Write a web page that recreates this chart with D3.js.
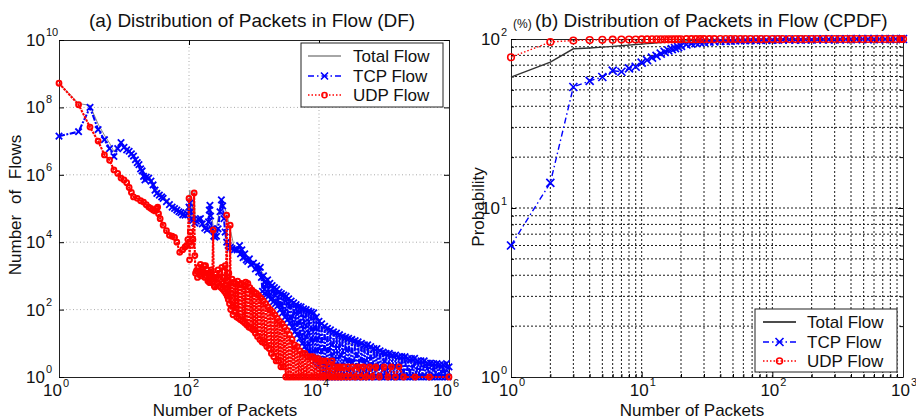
<!DOCTYPE html>
<html>
<head>
<meta charset="utf-8">
<script src="https://cdn.jsdelivr.net/npm/d3@7/dist/d3.min.js"></script>
<style>
  body { margin: 0; background: #fff; }
  text { font-family: "Liberation Sans", Arial, Helvetica, sans-serif; fill: #111; }
</style>
</head>
<body>
<svg id="chart" width="916" height="419"></svg>
<script>
// (a) DF: number of flows for each packet count [packets, flows]
const dfTotal = [[1,5.3e8],[2,1.3e8],[3,1.15e8],[4,3.2e7],[5,1.5e7],[6,8.7e6],[7,4.9e6],[8,7.1e6],[9,9.8e6],[10,7.2e6],
  [12,5.4e6],[14,3.8e6],[16,2.5e6],[18,1.7e6],[20,1.05e6],[24,9.1e5],[28,5.9e5],[32,3.8e5],[40,2.3e5],[50,1.5e5],
  [65,1e5],[80,7.1e4],[100,1.2e5],[103,3.5e5],[110,5.8e4],[120,3.2e5],[125,4e4],[150,5.2e4],[190,2.5e4],[210,1.3e5],
  [250,1.45e4],[315,1.82e5],[380,7.3e4],[500,6.6e3],[800,3e3],[1250,1.5e3],[2000,450],[3000,220],[5000,100],[8000,60],
  [12000,25],[20000,14],[40000,8],[80000,5],[150000,3.5],[300000,2.5],[600000,2],[1000000,1.5]];

const dfTcp = [[1,1.4e7],[2,1.9e7],[3,1.0e8],[4,2.2e7],[5,1.1e7],[6,6e6],[7,3.5e6],[8,6e6],[9,9e6],[10,6.5e6],
  [11,5.5e6],[12,5e6],[13,4.2e6],[14,3.6e6],[15,2.8e6],[16,2.3e6],[17,2.0e6],[18,1.5e6],[19,1.3e6],[20,9e5],
  [21,7e5],[22,8.5e5],[24,8e5],[26,6.5e5],[28,5e5],[30,3.5e5],[32,2.8e5],[35,2.5e5],[38,2.2e5],[40,2.0e5],
  [45,1.6e5],[50,1.3e5],[55,1.1e5],[60,1.0e5],[65,9e4],[70,8e4],[75,7.5e4],[80,6.5e4],[87,6.3e4],[95,7e4],
  [100,1.1e5],[103,1.45e5],[106,8e4],[110,5e4],[115,4.5e4],[123,3.7e4],[130,4.2e4],[140,4.8e4],[150,5e4],[160,3.5e4],
  [175,2.6e4],[190,2.3e4],[200,4e4],[205,9e4],[210,1.25e5],[215,6e4],[225,2.5e4],[240,1.5e4],[250,1.4e4],[265,1.5e4],
  [280,2.5e4],[300,8e4],[315,1.8e5],[330,1.2e5],[345,5e4],[360,2e4],[380,1e4],[400,8e3],[430,7e3],[460,6.5e3],
  [500,6e3],[550,5.9e3],[600,8e3],[620,4.5e3],[650,5.9e3],[680,3.5e3],[720,4.5e3],[760,3e3],[800,2.7e3],[850,3.2e3],
  [900,2.2e3],[980,2.4e3],[1050,1.6e3],[1100,2e3],[1180,1.3e3],[1250,1.8e3],
  [1300,900],[1350,350],[1400,1000],[1450,300],[1500,700],[1560,280],[1620,760],[1680,250],[1750,600],[1820,200],
  [1900,520],[1980,170],[2060,450],[2150,150],[2240,400],[2330,130],[2430,330],[2530,100],[2640,300],[2750,80],
  [2870,270],[3000,60],[3130,250],[3270,50],[3420,210],[3570,40],[3730,180],[3900,30],[4080,160],[4260,22],
  [4450,140],[4650,18],[4860,125],[5080,14],[5300,120],[5550,10],[5800,105],[6050,8],[6350,100],[6650,6],
  [6950,90],[7250,5],[7600,85],[7950,4],[8300,80],[8700,3],[9100,60],[9500,2],[10000,45],[10500,1],
  [11000,38],[11600,1],[12200,32],[12800,1],[13500,28],[14200,1],[15000,25],[15800,1],[16700,22],[17600,1],
  [18600,20],[19600,1],[20700,18],[21800,1],[23000,16],[24300,1],[25700,15],[27100,1],[28600,14],[30200,1],
  [32000,13],[34000,1],[36000,12],[38000,1],[40000,11],[42500,1],[45000,10],[47500,1],[50000,9],[53000,1],
  [56000,9],[59000,1],[62500,8],[66000,1],[70000,7],[74000,1],[78000,7],[82500,1],[87000,6],[92000,1],
  [97000,5.5],[102000,1],[108000,5],[114000,1],[121000,5],[128000,1],[135000,4.5],[143000,1],[151000,4.5],[160000,1],
  [169000,4],[179000,1],[189000,4],[200000,1],[211000,4],[223000,1],[236000,3.5],[250000,1],[265000,3.5],[280000,1],
  [296000,3.6],[313000,1],[331000,3],[350000,1],[370000,3],[392000,1],[415000,3],[440000,1],[465000,2.6],[492000,1],
  [520000,2.6],[550000,1],[582000,2.5],[616000,1],[652000,2.5],[690000,1],[730000,2.3],[772000,1],[817000,2.3],[864000,1],
  [914000,2.5],[967000,1],[1000000,2]];

const dfUdp = [[1,5.2e8],[2,1.2e8],[3,2.6e7],[4,1e7],[5,3.9e6],[6,2.7e6],[7,1.4e6],[8,1.1e6],[9,8e5],[10,7e5],
  [11,5.8e5],[12,4.2e5],[13,3e5],[14,2.2e5],[16,2e5],[18,1.7e5],[20,1.55e5],[22,1.3e5],[24,1.1e5],[26,1e5],
  [28,9e4],[30,8.5e4],[32,1e5],[33,1.1e5],[34,7e4],[36,5e4],[40,3.2e4],[45,2.2e4],[50,1.6e4],[55,1.5e4],
  [60,1.4e4],[65,1e4],[72,5e3],[80,6e3],[87,7.2e3],[92,8e3],[96,1.2e4],[100,2e5],[102,3e3],[105,2e4],
  [110,8e3],[115,1.2e4],[120,2.9e5],[123,4e3],[126,1.2e3],[130,1.4e3],[135,900],[140,1.8e3],[145,1.1e3],[150,2.2e3],
  [155,1e3],[160,1.3e3],[165,1.2e3],[170,2e3],[175,900],[180,2e3],[185,1e3],[190,1.5e3],[195,700],[200,1.2e3],
  [205,650],[210,630],[215,1.3e3],[220,1.5e3],[228,800],[235,2.3e4],[240,900],[245,500],[250,470],[255,1.1e3],
  [260,900],[270,600],[280,1.5e3],[290,500],[300,1.2e3],[310,450],[320,1.8e3],[330,400],[340,900],[350,350],
  [360,2e3],[370,300],[380,6.3e4],[388,250],[395,700],[402,200],[410,1.2e3],[420,150],[430,3.2e4],[438,100],
  [445,300],[460,800],[475,70],[490,650],[505,90],[520,600],[540,60],[560,700],[580,55],[600,550],
  [620,50],[645,600],[670,45],[695,520],[720,40],[745,650],[775,35],[805,600],[835,30],[865,450],
  [900,28],[935,380],[970,25],[1010,330],[1050,20],[1090,300],[1130,16],[1180,260],[1230,13],[1280,220],
  [1330,11],[1390,180],[1450,10],[1510,150],[1570,8],[1640,120],[1710,7],[1780,100],[1850,5],[1930,85],
  [2010,4],[2100,70],[2190,3],[2280,55],[2380,3],[2480,45],[2590,2],[2700,38],[2820,2],[2950,30],
  [3080,1],[3220,24],[3370,1],[3520,18],[3680,1],[3850,13],[4030,1],[4220,9],[4420,1],[4630,8],
  [4850,1],[5080,6],[5320,1],[5570,5],[5830,1],[6100,5],[6400,1],[6700,4],[7000,1],[7350,4],
  [7700,1],[8050,4],[8450,1],[8850,3.5],[9300,1],[9750,3.5],[10200,1],[10700,3],[11200,1],[11800,3],
  [12400,1],[13000,3],[13700,1],[14400,2],[15100,1],[15900,3],[16700,1],[17500,2],[18400,1],[19300,2],
  [20300,1],[21300,2],[22400,1],[24000,2],[26000,1],[28000,2],[30000,1],[33000,2],[36000,1],[40000,2],
  [44000,1],[48000,2],[53000,1],[60000,2],[66000,1],[75000,2],[85000,1],[100000,2],[115000,1],[130000,2],
  [150000,1],[170000,2],[200000,1],[300000,1],[500000,1],[1000000,1]];

// (b) CPDF: cumulative probability (%) at each packet count
const cpdfPackets = [1,2,3,4,5,6,7,8,9,10,11,12,13,14,15,16,17,18,19,20,22,24,26,28,30,33,36,40,44,48,
  52,57,62,68,75,82,90,100,110,120,135,150,165,180,200,220,245,270,300,330,365,400,440,490,540,600,660,730,800,880,960,1000];
const cpdfTotal = [59.5,73,87.5,88.5,89.5,90.5,91.3,92,92.7,93.3,93.9,94.4,94.9,95.3,95.7,96,96.3,96.6,96.9,97.1,
  97.5,97.8,98,98.2,98.4,98.6,98.75,98.9,99,99.1,99.15,99.2,99.25,99.3,99.35,99.4,99.45,99.5,99.52,99.55,
  99.58,99.6,99.62,99.65,99.68,99.7,99.72,99.75,99.77,99.8,99.82,99.84,99.86,99.88,99.9,99.91,99.92,99.93,99.94,99.95,99.96,99.97];
const cpdfTcp = [6.0,14.1,52,56.5,59.6,65,64,67,68.5,72.5,75,77.5,79.5,82,84,85.5,87,88.2,89.5,91,
  92.8,94,94.8,95.5,96,96.5,96.9,97.3,97.6,97.9,98.1,98.3,98.45,98.6,98.7,98.8,98.9,99,99.05,99.1,
  99.15,99.2,99.25,99.3,99.35,99.4,99.45,99.5,99.55,99.6,99.65,99.7,99.75,99.8,99.83,99.86,99.9,99.93,99.96,100,100,100];
const cpdfUdp = [78,96,98,98.6,98.9,99.1,99.2,99.3,99.35,99.4,99.45,99.5,99.52,99.55,99.57,99.6,99.62,99.64,99.66,99.68,
  99.7,99.72,99.74,99.76,99.78,99.8,99.82,99.84,99.85,99.86,99.87,99.88,99.89,99.9,99.91,99.92,99.93,99.94,99.95,99.95,
  99.96,99.96,99.97,99.97,99.98,99.98,99.98,99.99,99.99,99.99,100,100,100,100,100,100,100,100,100,100,100,100];

const legendLabels = ['Total Flow', 'TCP Flow', 'UDP Flow'];
const dfXTicks = [1, 1e2, 1e4, 1e6];
const dfYTicks = [1, 1e2, 1e4, 1e6, 1e8, 1e10];
const cpdfXTicks = [1, 10, 100, 1000];
const cpdfYTicks = [1, 10, 100];

const svg = d3.select('#chart');
const BLUE = '#0000ff', RED = '#ff0000';

// draws frame, ticks and grid of a log-log panel, returns scales
const makePanel = (box, xDom, yDom, xMajor, yMajor, xGrid, yGrid, gridStyle, minorX, minorY) => {
  const g = svg.append('g');
  const x = d3.scaleLog().domain(xDom).range([box.left, box.right]);
  const y = d3.scaleLog().domain(yDom).range([box.bottom, box.top]);

  g.append('g').selectAll('line').data(xGrid).enter().append('line')
    .attr('x1', d => x(d)).attr('x2', d => x(d))
    .attr('y1', box.top).attr('y2', box.bottom)
    .attr('stroke', gridStyle.color).attr('stroke-dasharray', gridStyle.dash);
  g.append('g').selectAll('line').data(yGrid).enter().append('line')
    .attr('y1', d => y(d)).attr('y2', d => y(d))
    .attr('x1', box.left).attr('x2', box.right)
    .attr('stroke', gridStyle.color).attr('stroke-dasharray', gridStyle.dash);

  const axes = [
    [d3.axisBottom(x), `translate(0,${box.bottom})`, xMajor, minorX],
    [d3.axisTop(x), `translate(0,${box.top})`, xMajor, minorX],
    [d3.axisLeft(y), `translate(${box.left},0)`, yMajor, minorY],
    [d3.axisRight(y), `translate(${box.right},0)`, yMajor, minorY]
  ];
  axes.forEach(([ax, tr, major, minor]) => {
    const a = g.append('g').attr('transform', tr)
      .call(ax.tickValues(major).tickSize(-5).tickSizeOuter(0).tickFormat(''));
    a.select('.domain').attr('stroke', '#222');
    if (minor.length) {
      const a2 = g.append('g').attr('transform', tr)
        .call(ax.tickValues(minor).tickSize(-3).tickSizeOuter(0).tickFormat(''));
      a2.select('.domain').remove();
    }
  });
  return { g, x, y };
};

const powLabel = (g, px, py, exp, supDy) => {
  g.append('text').attr('x', px).attr('y', py).attr('text-anchor', 'end')
    .attr('font-size', 17).text('10');
  g.append('text').attr('x', px + 1).attr('y', py + supDy)
    .attr('font-size', 11).text(exp);
};

const drawSeries = (p, data, color, width, dash) => {
  p.g.append('path').datum(data)
    .attr('d', d3.line().x(d => p.x(d[0])).y(d => p.y(d[1])))
    .attr('fill', 'none').attr('stroke', color).attr('stroke-width', width)
    .attr('stroke-dasharray', dash);
};

const drawCross = (g, pts, color, s, w) => {
  g.append('g').selectAll('path').data(pts).enter().append('path')
    .attr('d', `M${-s},${-s}L${s},${s}M${-s},${s}L${s},${-s}`)
    .attr('transform', d => `translate(${d[0]},${d[1]})`)
    .attr('stroke', color).attr('stroke-width', w).attr('fill', 'none');
};
const drawRing = (g, pts, color, r, w) => {
  g.append('g').selectAll('circle').data(pts).enter().append('circle')
    .attr('cx', d => d[0]).attr('cy', d => d[1]).attr('r', r)
    .attr('fill', 'none').attr('stroke', color).attr('stroke-width', w);
};

const drawLegend = (box, textX, lineX0, lineX1, rowsY, totalColor, ms) => {
  const g = svg.append('g');
  g.append('rect').attr('x', box.x).attr('y', box.y).attr('width', box.w).attr('height', box.h)
    .attr('fill', '#fff').attr('stroke', '#222');
  const styles = [[totalColor, null], [BLUE, '6,3,1.5,3'], [RED, '1.5,2']];
  legendLabels.forEach((lab, i) => {
    g.append('line').attr('x1', lineX0).attr('x2', lineX1).attr('y1', rowsY[i] - 6).attr('y2', rowsY[i] - 6)
      .attr('stroke', styles[i][0]).attr('stroke-width', 1.3).attr('stroke-dasharray', styles[i][1]);
    g.append('text').attr('x', textX).attr('y', rowsY[i]).attr('font-size', 17).text(lab);
  });
  const mx = (lineX0 + lineX1) / 2;
  drawCross(g, [[mx, rowsY[1] - 6]], BLUE, ms, 1.6);
  drawRing(g, [[mx, rowsY[2] - 6]], RED, ms * 0.75, 1.5);
};

// ---- panel (a) ----
const pa = makePanel({ left: 59, right: 449, top: 40, bottom: 377 }, [1, 1e6], [1, 1e10],
  dfXTicks, dfYTicks, [1e2, 1e4], [1e2, 1e4, 1e6, 1e8], { color: '#aaa', dash: '1,2.5' }, [], []);

drawSeries(pa, dfTotal, '#888', 1, null);
drawSeries(pa, dfTcp, BLUE, 2.1, '6,1.5,2,1.5');
drawCross(pa.g, dfTcp.map(d => [pa.x(d[0]), pa.y(d[1])]), BLUE, 3.2, 1.8);
drawSeries(pa, dfUdp, RED, 2.1, '2.5,1');
drawRing(pa.g, dfUdp.map(d => [pa.x(d[0]), pa.y(d[1])]), RED, 2.4, 2);

dfXTicks.forEach(t => powLabel(svg, pa.x(t) + 3, 396, String(Math.log10(t)), -9));
dfYTicks.forEach(t => powLabel(svg, 45, pa.y(t) + 6, String(Math.log10(t)), -10));

svg.append('text').attr('x', 252).attr('y', 27).attr('text-anchor', 'middle')
  .attr('font-size', 19).text('(a) Distribution of Packets in Flow (DF)');
svg.append('text').attr('x', 225).attr('y', 416).attr('text-anchor', 'middle')
  .attr('font-size', 17).text('Number of Packets');
svg.append('text').attr('transform', 'translate(21,205) rotate(-90)').attr('text-anchor', 'middle')
  .attr('font-size', 17).attr('word-spacing', 6).text('Number of Flows');

drawLegend({ x: 301, y: 43, w: 142, h: 64 }, 353, 308, 341, [62, 82, 101], '#888', 3.5);

// ---- panel (b) ----
const minorOf = (lo, hi) => {
  const out = [];
  for (let k = lo; k < hi; k++) for (let m = 2; m <= 9; m++) out.push(m * Math.pow(10, k));
  return out;
};
const minX = minorOf(0, 3), minY = minorOf(0, 2);
const pb = makePanel({ left: 511, right: 903, top: 39, bottom: 377 }, [1, 1e3], [1, 100],
  cpdfXTicks, cpdfYTicks, [10, 100].concat(minX), [10].concat(minY),
  { color: '#1a1a1a', dash: '2,2' }, minX, minY);

const rows = key => cpdfPackets.map((n, i) => [n, key[i]]);
drawSeries(pb, rows(cpdfTotal), '#333', 1.4, null);
drawSeries(pb, rows(cpdfTcp), BLUE, 1.4, '6,3,1.5,3');
drawCross(pb.g, rows(cpdfTcp).map(d => [pb.x(d[0]), pb.y(d[1])]), BLUE, 4, 1.7);
drawSeries(pb, rows(cpdfUdp), RED, 1.4, '1.5,2');
drawRing(pb.g, rows(cpdfUdp).map(d => [pb.x(d[0]), pb.y(d[1])]), RED, 3.3, 1.6);

cpdfXTicks.forEach(t => powLabel(svg, pb.x(t) + 7, 396, String(Math.log10(t)), -10));
cpdfYTicks.forEach(t => powLabel(svg, 500, pb.y(t) + 6, String(Math.log10(t)), -9));

svg.append('text').attr('x', 535).attr('y', 27).attr('font-size', 19)
  .text('(b) Distribution of Packets in Flow (CPDF)');
svg.append('text').attr('x', 513).attr('y', 28).attr('font-size', 12).text('(%)');
svg.append('text').attr('x', 692).attr('y', 416).attr('text-anchor', 'middle')
  .attr('font-size', 17).text('Number of Packets');
svg.append('text').attr('transform', 'translate(484,207) rotate(-90)').attr('text-anchor', 'middle')
  .attr('font-size', 17).text('Probability');

drawLegend({ x: 755, y: 309, w: 142, h: 63 }, 807, 763, 796, [328, 348, 367], '#111', 4);
</script>
</body>
</html>
